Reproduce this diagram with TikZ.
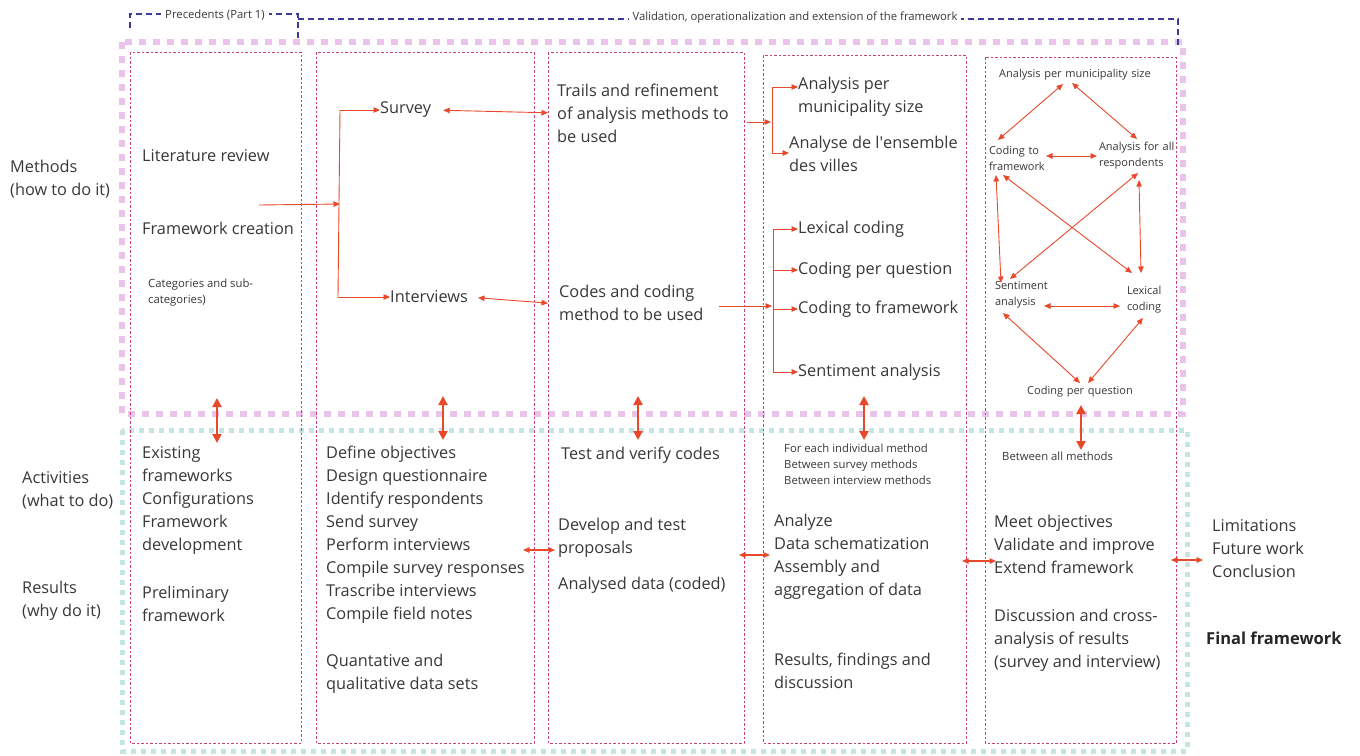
\documentclass[tikz,border=0pt]{standalone}
\usepackage{fontspec}
\setmainfont{Open Sans}
\usetikzlibrary{arrows.meta,calc}
\definecolor{arr}{HTML}{E8492A}
\definecolor{colb}{HTML}{C8407A}
\definecolor{pinkb}{HTML}{E9C3E9}
\definecolor{tealb}{HTML}{C3E6E4}
\definecolor{navy}{HTML}{3A3A9C}
\definecolor{txt}{HTML}{383838}
\begin{document}
\begin{tikzpicture}[x=1pt,y=-1pt,
 every node/.style={inner sep=0pt, text=txt},
 main/.style={font=\fontsize{16.3}{23}\selectfont, align=left, anchor=west},
 small/.style={font=\fontsize{11.3}{16}\selectfont, align=left, anchor=west},
 gnode/.style={font=\fontsize{11}{16}\selectfont},
 toplbl/.style={font=\fontsize{11.3}{13}\selectfont, fill=white, inner xsep=4pt, inner ysep=2pt},
 colbox/.style={draw=colb, dash pattern=on 2.5pt off 2pt, line width=0.8pt},
 pinkbox/.style={draw=pinkb, line width=6pt, dash pattern=on 7pt off 7pt},
 tealbox/.style={draw=tealb, line width=5pt, dash pattern=on 5pt off 5pt},
 brk/.style={draw=navy, line width=1.3pt, dash pattern=on 6pt off 4pt},
 ln/.style={draw=arr, line width=0.9pt},
 arw/.style={ln, -{Triangle[length=6.5pt,width=5.5pt]}},
 darw/.style={ln, {Triangle[length=6.5pt,width=5.5pt]}-{Triangle[length=6.5pt,width=5.5pt]}},
 bigarw/.style={draw=arr, line width=2.2pt, {Triangle[length=9pt,width=9pt]}-{Triangle[length=9pt,width=9pt]}},
]
\useasboundingbox[fill=white] (0,0) rectangle (1360,755);

% band frames
\draw[tealbox] (122,430) rectangle (1187,751);
\draw[pinkbox] (122,42) rectangle (1183,414);

% top brackets
\draw[brk] (130,28) -- (130,14) -- (298,14) -- (298,40);
\node[toplbl] (prec) at (215,15) {Precedents (Part 1)};
\draw[brk] (298,19) -- (1178,19) -- (1178,45);
\node[toplbl] (valid) at (795,18) {Validation, operationalization and extension of the framework};

% columns
\draw[colbox] (130,52) rectangle (301,743);
\draw[colbox] (316,52) rectangle (534,743);
\draw[colbox] (548,52) rectangle (744,743);
\draw[colbox] (763,55) rectangle (966,743);
\draw[colbox] (985,57) rectangle (1176,743);

% row labels
\node[main] (meth) at (10,179) {Methods\\(how to do it)};
\node[main] (act) at (22,490) {Activities\\(what to do)};
\node[main] (res) at (22,600.5) {Results\\(why do it)};

% column 1
\node[main] (lit) at (142,156) {Literature review};
\node[main] (fwc) at (142,228) {Framework creation};
\node[small] (cat) at (148,292.5) {Categories and sub-\\categories)};
\node[main] (exf) at (142,500.5) {Existing\\frameworks\\Configurations\\Framework\\development};
\node[main] (prel) at (142,603.5) {Preliminary\\framework};

% column 2
\node[main] (svy) at (380,110) {Survey};
\node[main] (itv) at (390,297) {Interviews};
\node[main] (defo) at (326,534.5) {Define objectives\\Design questionnaire\\Identify respondents\\Send survey\\Perform interviews\\Compile survey responses\\Trascribe interviews\\Compile field notes};
\node[main] (quant) at (326,673.5) {Quantative and\\qualitative data sets};

% column 3
\node[main] (trl) at (557,113) {Trails and refinement\\of analysis methods to\\be used};
\node[main] (cod) at (559,302.5) {Codes and coding\\method to be used};
\node[main] (tvc) at (561,455) {Test and verify codes};
\node[main] (dev) at (558,537.5) {Develop and test\\proposals};
\node[main] (anl) at (558,585) {Analysed data (coded)};

% column 4
\node[main] (aps) at (798,96.5) {Analysis per\\municipality size};
\node[main] (ads) at (789,153.5) {Analyse de l\textquotesingle ensemble\\des villes};
\node[main] (lex) at (798,229) {Lexical coding};
\node[main] (cpq) at (798,270) {Coding per question};
\node[main] (ctf) at (798,309) {Coding to framework};
\node[main] (sen) at (798,372) {Sentiment analysis};
\node[small] (each) at (784,464) {For each individual method\\Between survey methods\\Between interview methods};
\node[main] (anz) at (774,556.5) {Analyze\\Data schematization\\Assembly and\\aggregation of data};
\node[main] (rfd) at (774,671) {Results, findings and\\discussion};

% column 5 graph
\node[gnode, text width=170pt, align=center] (g1) at (1075,75) {Analysis per municipality size};
\node[gnode, text width=62pt, align=left] (g2) at (1020,158) {Coding to\\framework};
\node[gnode, text width=78pt, align=left] (g3) at (1138,156) {Analysis for all\\respondents};
\node[gnode, text width=60pt, align=left] (g4) at (1025,295) {Sentiment\\analysis};
\node[gnode, text width=40pt, align=left] (g5) at (1147,300) {Lexical\\coding};
\node[gnode, text width=120pt, align=center] (g6) at (1080,392) {Coding per question};
\node[small] (bam) at (1002,456) {Between all methods};
\node[main] (meet) at (994,544) {Meet objectives\\Validate and improve\\Extend framework};
\node[main] (disc) at (994,640.5) {Discussion and cross-\\analysis of results\\(survey and interview)};

% right column
\node[main] (lim) at (1212,548.5) {Limitations\\Future work\\Conclusion};
\node[main, font=\fontsize{16.5}{23}\selectfont\bfseries, text=black!85] (final) at (1206,638) {Final framework};

% branch 1 : framework -> survey / interviews
\coordinate (src1) at (259,205);
\coordinate (j1) at (340,204);
\coordinate (v1t) at (340,110);
\coordinate (v1b) at (338,297);
\draw[arw] (src1) -- (j1);
\draw[ln] (v1t) -- (v1b);
\draw[arw] (v1t) -- (svy.west);
\draw[arw] (v1b) -- (itv.west);

% survey/interviews <-> column 3
\draw[darw, shorten <=12pt, shorten >=9pt] (svy.east) -- (trl.west);
\draw[darw, shorten <=10pt, shorten >=11pt] (itv.east) -- ($(cod.west)+(0,1.5)$);

% branch 2 : trails -> analysis
\coordinate (j2) at (771,122);
\coordinate (v2t) at (772,87);
\coordinate (v2b) at (772,153);
\draw[arw, shorten <=18pt] (trl.east |- j2) -- (j2);
\draw[ln] (v2t) -- (v2b);
\draw[arw] (v2t) -- (v2t -| aps.west);
\draw[arw] (v2b) -- (v2b -| ads.west);

% branch 3 : codes -> coding methods
\coordinate (j3) at (772,306);
\coordinate (v3t) at (773,229);
\coordinate (v3b) at (773,372);
\draw[arw, shorten <=15pt] (cod.east |- j3) -- (j3);
\draw[ln] (v3t) -- (v3b);
\draw[arw] (v3t) -- (lex.west);
\draw[arw] (v3t |- cpq.west) -- (cpq.west);
\draw[arw] (v3t |- ctf.west) -- (ctf.west);
\draw[arw] (v3b) -- (sen.west);

% graph arrows
\draw[darw] ($(g1)+(-12,9)$) -- ($(g2)+(-22,-18)$);
\draw[darw] ($(g1)+(-3,8)$) -- ($(g3)+(-1,-17)$);
\draw[darw] ($(g2)+(26,-2)$) -- ($(g3)+(-41,0)$);
\draw[darw] ($(g2)+(-24,17)$) -- ($(g4)+(-24,-12)$);
\draw[darw] ($(g2)+(-17,17)$) -- ($(g5)+(-15,-27)$);
\draw[darw] ($(g3)+(0,17)$) -- ($(g4)+(-15,-16)$);
\draw[darw] ($(g3)+(1,24)$) -- ($(g5)+(-6,-27)$);
\draw[darw] ($(g4)+(19,11)$) -- ($(g5)+(-27,6)$);
\draw[darw] ($(g4)+(-22,18)$) -- ($(g6)+(0,-9)$);
\draw[darw] ($(g5)+(-4,18)$) -- ($(g6)+(8,-9)$);

% vertical method <-> activity arrows
\coordinate (m1) at (217,398); \coordinate (a1) at (217,443);
\coordinate (m2) at (443,396); \coordinate (a2) at (443,440);
\coordinate (m3) at (638,396); \coordinate (a3) at (638,440);
\coordinate (m4) at (864,396); \coordinate (a4) at (864,440);
\coordinate (m5) at (1081,405); \coordinate (a5) at (1081,450);
\foreach \i in {1,...,5} {\draw[bigarw] (m\i) -- (a\i);}

% horizontal activity arrows
\coordinate (h1a) at (523,550); \coordinate (h1b) at (555,550);
\coordinate (h2a) at (739,555); \coordinate (h2b) at (770,555);
\coordinate (h3a) at (962,561); \coordinate (h3b) at (996,561);
\coordinate (h4a) at (1171,560); \coordinate (h4b) at (1203,560);
\foreach \i in {1,...,4} {\draw[darw, line width=1.4pt] (h\i a) -- (h\i b);}
\end{tikzpicture}
\end{document}
